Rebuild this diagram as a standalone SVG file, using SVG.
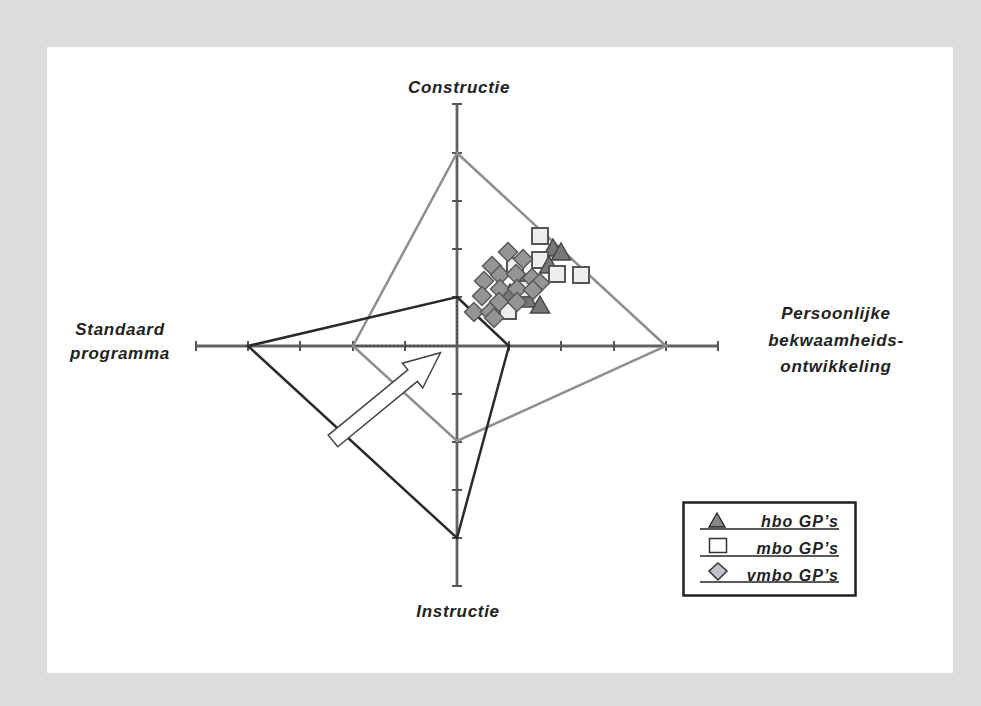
<svg xmlns="http://www.w3.org/2000/svg" xmlns:xlink="http://www.w3.org/1999/xlink" width="981" height="706" viewBox="0 0 981 706">
  <style>
    .lbl { font-family: "Liberation Sans", Arial, sans-serif; font-weight: bold; font-style: italic; font-size: 17px; letter-spacing: 0.7px; fill: #222; }
    .leg { font-family: "Liberation Sans", Arial, sans-serif; font-weight: bold; font-style: italic; font-size: 16px; letter-spacing: 1px; fill: #222; }
    .axis { stroke: #626262; stroke-width: 2.8; fill: none; }
    .tick { stroke: #555; stroke-width: 2; }
    .dot { stroke: #333; stroke-width: 1; stroke-dasharray: 2 2; fill: none; }
    .outer { stroke: #8e8e8e; stroke-width: 2.5; fill: none; stroke-linejoin: miter; }
    .inner { stroke: #2a2a2a; stroke-width: 2.5; fill: none; stroke-linejoin: miter; }
    .tri { fill: #777; stroke: #444; stroke-width: 1.5; }
    .sq { fill: #eeeeee; stroke: #555; stroke-width: 2; }
    .dia { fill: #959595; stroke: #5a5a5a; stroke-width: 1.5; }
  </style>
  <defs>
    <polygon id="tri" class="tri" points="0,-10 9.5,7 -9.5,7"/>
    <rect id="sq" class="sq" x="-8" y="-8" width="16" height="16"/>
    <polygon id="dia" class="dia" points="0,-9.5 9.5,0 0,9.5 -9.5,0"/>
  </defs>

  <!-- frame -->
  <rect x="0" y="0" width="981" height="706" fill="#dcdddf"/>
  <rect x="47" y="47" width="906" height="626" fill="#ffffff"/>

  <!-- axes with ticks -->
  <g id="axes">
    <line class="axis" x1="457" y1="104" x2="457" y2="586"/>
    <line class="axis" x1="196" y1="346" x2="718" y2="346"/>
    <g class="tick">
      <line x1="452" y1="104" x2="462" y2="104"/>
      <line x1="452" y1="153" x2="462" y2="153"/>
      <line x1="452" y1="201" x2="462" y2="201"/>
      <line x1="452" y1="249" x2="462" y2="249"/>
      <line x1="452" y1="297" x2="462" y2="297"/>
      <line x1="452" y1="394" x2="462" y2="394"/>
      <line x1="452" y1="442" x2="462" y2="442"/>
      <line x1="452" y1="490" x2="462" y2="490"/>
      <line x1="452" y1="538" x2="462" y2="538"/>
      <line x1="452" y1="586" x2="462" y2="586"/>
      <line x1="196" y1="341" x2="196" y2="351"/>
      <line x1="248" y1="341" x2="248" y2="351"/>
      <line x1="300" y1="341" x2="300" y2="351"/>
      <line x1="353" y1="341" x2="353" y2="351"/>
      <line x1="405" y1="341" x2="405" y2="351"/>
      <line x1="509" y1="341" x2="509" y2="351"/>
      <line x1="561" y1="341" x2="561" y2="351"/>
      <line x1="614" y1="341" x2="614" y2="351"/>
      <line x1="666" y1="341" x2="666" y2="351"/>
      <line x1="718" y1="341" x2="718" y2="351"/>
    </g>
    <line class="dot" x1="353" y1="346" x2="457" y2="346"/>
    <line class="dot" x1="457" y1="297" x2="457" y2="346"/>
  </g>

  <!-- profiles -->
  <g id="profiles">
    <polygon class="outer" points="457,153 666,346 457,441 353,346"/>
    <polygon class="inner" points="457,297 509,346 457,538 248,346"/>
  </g>

  <!-- shift arrow -->
  <g id="shift-arrow" transform="translate(333,441) rotate(-39.4)">
    <polygon points="0,-7.5 103,-7.5 103,-16 139,0 103,16 103,7.5 0,7.5" fill="#fff" stroke="#444" stroke-width="1.5"/>
  </g>

  <!-- data points -->
  <g id="points">
    <!-- points mostly hidden inside the cluster -->
    <use xlink:href="#tri" href="#tri" x="524" y="283"/>
    <use xlink:href="#tri" href="#tri" x="510" y="294"/>
    <use xlink:href="#tri" href="#tri" x="527" y="300"/>
    <use xlink:href="#sq" href="#sq" x="515" y="266"/>
    <use xlink:href="#sq" href="#sq" x="527" y="289"/>
    <use xlink:href="#sq" href="#sq" x="508" y="311"/>

    <use xlink:href="#sq" href="#sq" x="540" y="236"/>
    <use xlink:href="#tri" href="#tri" x="553" y="249"/>
    <use xlink:href="#tri" href="#tri" x="561" y="253"/>
    <use xlink:href="#sq" href="#sq" x="540" y="260"/>
    <use xlink:href="#tri" href="#tri" x="549" y="266"/>
    <use xlink:href="#sq" href="#sq" x="557" y="274"/>
    <use xlink:href="#sq" href="#sq" x="581" y="275"/>

    <use xlink:href="#dia" href="#dia" x="508" y="252"/>
    <use xlink:href="#dia" href="#dia" x="523" y="259"/>
    <use xlink:href="#dia" href="#dia" x="492" y="266"/>
    <use xlink:href="#dia" href="#dia" x="500" y="275"/>
    <use xlink:href="#dia" href="#dia" x="516" y="274"/>
    <use xlink:href="#dia" href="#dia" x="484" y="281"/>
    <use xlink:href="#dia" href="#dia" x="532" y="278"/>
    <use xlink:href="#dia" href="#dia" x="540" y="283"/>
    <use xlink:href="#dia" href="#dia" x="500" y="289"/>
    <use xlink:href="#dia" href="#dia" x="517" y="289"/>
    <use xlink:href="#dia" href="#dia" x="533" y="290"/>
    <use xlink:href="#dia" href="#dia" x="482" y="296"/>
    <use xlink:href="#dia" href="#dia" x="499" y="302"/>
    <use xlink:href="#dia" href="#dia" x="517" y="302"/>
    <use xlink:href="#dia" href="#dia" x="474" y="312"/>
    <use xlink:href="#dia" href="#dia" x="490" y="312"/>
    <use xlink:href="#dia" href="#dia" x="494" y="318"/>

    <use xlink:href="#tri" href="#tri" x="540" y="306"/>
  </g>

  <!-- axis labels -->
  <g id="labels">
    <text class="lbl" x="459" y="93" text-anchor="middle">Constructie</text>
    <text class="lbl" x="458" y="617" text-anchor="middle">Instructie</text>
    <text class="lbl" x="120" y="335" text-anchor="middle">Standaard</text>
    <text class="lbl" x="120" y="359" text-anchor="middle">programma</text>
    <text class="lbl" x="836" y="319" text-anchor="middle">Persoonlijke</text>
    <text class="lbl" x="836" y="346" text-anchor="middle">bekwaamheids-</text>
    <text class="lbl" x="836" y="372" text-anchor="middle">ontwikkeling</text>
  </g>

  <!-- legend -->
  <g id="legend">
    <rect x="683.5" y="502.5" width="172" height="93" fill="#fff" stroke="#222" stroke-width="2.5"/>
    <polygon points="717,513 725,527 709,527" fill="#888" stroke="#222" stroke-width="1.3"/>
    <text class="leg" x="839" y="527" text-anchor="end">hbo GP’s</text>
    <line x1="700" y1="529" x2="839" y2="529" stroke="#222" stroke-width="1.3"/>
    <rect x="709.5" y="538.5" width="17" height="14" fill="#fff" stroke="#333" stroke-width="1.5"/>
    <text class="leg" x="839" y="554" text-anchor="end">mbo GP’s</text>
    <line x1="700" y1="556" x2="839" y2="556" stroke="#222" stroke-width="1.3"/>
    <polygon points="718,563 727,571 718,580 709,571" fill="#c2c3ca" stroke="#333" stroke-width="1.5"/>
    <text class="leg" x="839" y="581" text-anchor="end">vmbo GP’s</text>
    <line x1="700" y1="582" x2="839" y2="582" stroke="#222" stroke-width="1.3"/>
  </g>
</svg>
